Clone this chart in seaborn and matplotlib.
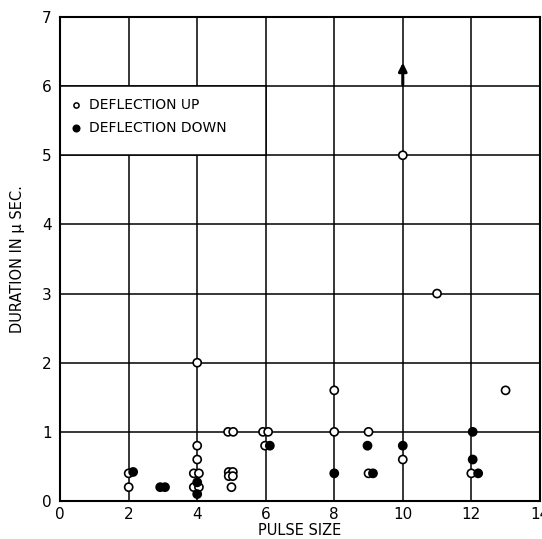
import matplotlib
matplotlib.use("Agg")
import matplotlib.pyplot as plt
from matplotlib.patches import Rectangle
import seaborn as sns
import pandas as pd

# Data
up_x = [2, 2, 4, 4, 4, 3.9, 4.05, 3.9, 4.05, 4.9, 5.05,
        4.92, 5.04, 4.92, 5.04, 5.0, 5.92, 6.07, 5.98,
        8, 8, 9, 9, 10, 10, 11, 12, 13]
up_y = [0.4, 0.2, 2.0, 0.8, 0.6, 0.4, 0.4, 0.2, 0.2, 1.0, 1.0,
        0.42, 0.42, 0.36, 0.36, 0.2, 1.0, 1.0, 0.8,
        1.6, 1.0, 1.0, 0.4, 5.0, 0.6, 3.0, 0.4, 1.6]
down_x = [2.13, 2.92, 3.06, 4.0, 4.0, 6.12, 8, 8.97, 9.13, 10, 12.04, 12.04, 12.2]
down_y = [0.42, 0.2, 0.2, 0.27, 0.1, 0.8, 0.4, 0.8, 0.4, 0.8, 1.0, 0.6, 0.4]
labels = ["DEFLECTION UP", "DEFLECTION DOWN"]

df = pd.DataFrame({
    "pulse": up_x + down_x,
    "duration": up_y + down_y,
    "deflection": [labels[0]] * len(up_x) + [labels[1]] * len(down_x),
})

sns.set_style("white")
plt.rcParams["font.family"] = ["DejaVu Sans"]
plt.rcParams["text.color"] = "black"
plt.rcParams["axes.labelcolor"] = "black"
plt.rcParams["xtick.color"] = "black"
plt.rcParams["ytick.color"] = "black"

fig = plt.figure(figsize=(5.42, 5.39), dpi=100)
ax = fig.add_axes([0.111, 0.0705, 0.885, 0.898])

sns.scatterplot(data=df, x="pulse", y="duration", hue="deflection",
                palette={labels[0]: "white", labels[1]: "black"},
                edgecolor="black", linewidth=1.2, s=34, zorder=3,
                legend=False, ax=ax)

# arrow for value off the top at pulse 10
ax.annotate("", xy=(10, 6.38), xytext=(10, 5.98),
            arrowprops=dict(arrowstyle="-|>", color="black", lw=2.2,
                            mutation_scale=12), zorder=4)

ax.set_xlim(0, 14)
ax.set_ylim(0, 7)
ax.set_xticks(range(0, 15, 2))
ax.set_yticks(range(0, 8))
ax.grid(True, color="black", linewidth=1.1)
ax.set_axisbelow(True)
for sp in ax.spines.values():
    sp.set_color("black")
    sp.set_linewidth(1.5)
ax.tick_params(axis="x", length=0, labelsize=11, pad=4)
ax.tick_params(axis="y", length=0, labelsize=11, pad=6)

# legend box covering the grid cell
ax.add_patch(Rectangle((0, 5), 6, 1, facecolor="white", edgecolor="black",
                       linewidth=1.1, zorder=2))
ax.scatter([0.45], [5.72], s=14, facecolor="white", edgecolor="black",
           linewidth=1.1, zorder=3)
ax.scatter([0.45], [5.4], s=22, facecolor="black", edgecolor="black",
           linewidth=1.1, zorder=3)
ax.text(0.85, 5.72, labels[0], va="center", fontsize=10, zorder=3)
ax.text(0.85, 5.4, labels[1], va="center", fontsize=10, zorder=3)

ax.set_xlabel("PULSE SIZE", fontsize=10.5, labelpad=1)
ax.set_ylabel("DURATION IN \u03bc SEC.", fontsize=10.5, labelpad=12)

fig.savefig("out.png", dpi=100, facecolor="white")
